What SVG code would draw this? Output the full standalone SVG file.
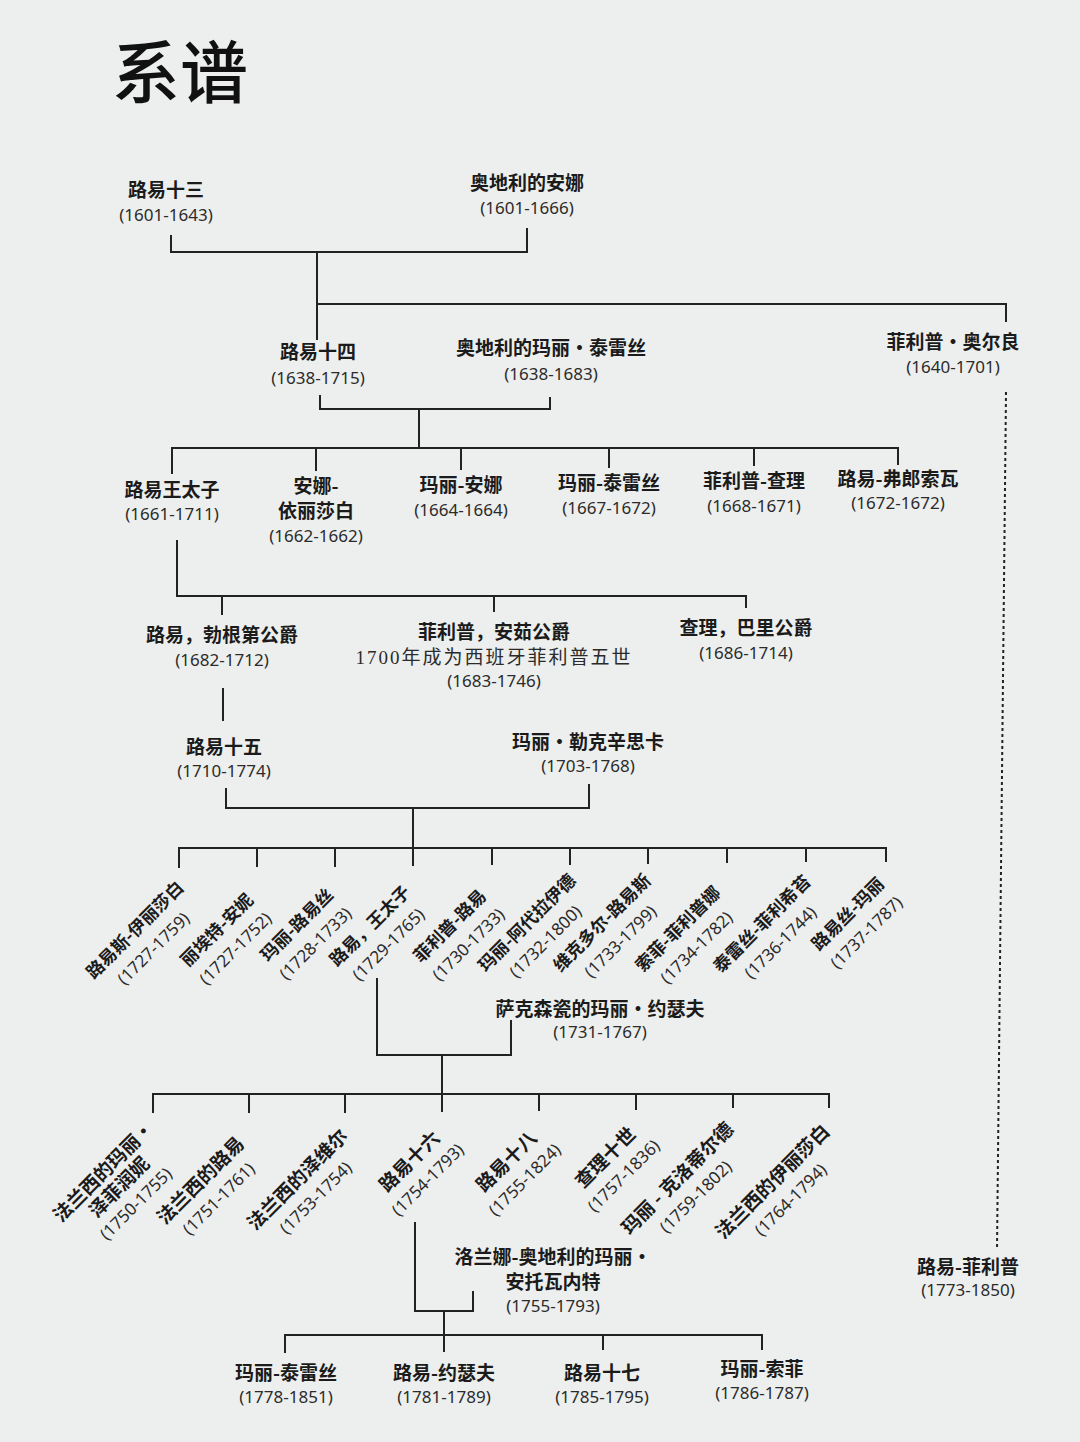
<svg xmlns="http://www.w3.org/2000/svg" width="1080" height="1442" viewBox="0 0 1080 1442">
<style>
.n{font-family:"Noto Sans CJK SC","Noto Sans CJK TC",sans-serif;font-weight:700;font-size:19px;fill:#1b1b1b;text-anchor:middle}
.r{font-size:17.5px}
.r2{font-size:19px}
.d{font-family:"Noto Sans","Open Sans","Noto Sans CJK SC",sans-serif;font-size:17px;fill:#2b2b2b;text-anchor:middle}
.note{font-family:"Liberation Serif","Noto Sans CJK SC",serif;font-size:19px;fill:#2b2b2b;text-anchor:middle;letter-spacing:2px}
.t{font-family:"Noto Sans CJK SC",sans-serif;font-size:68px;font-weight:500;fill:#111}
.c{fill:none;stroke:#222;stroke-width:2}
.dot{fill:none;stroke:#222;stroke-width:2;stroke-dasharray:3 3}
</style>
<rect width="1080" height="1442" fill="#edefee"/>
<text class="t" x="112" y="98">系谱</text>

<g id="connectors">
<path class="c" d="M171 235V252H527V228"/>
<path class="c" d="M317 252V340"/>
<path class="c" d="M317 304H1006V322"/>
<path class="c" d="M320 395V409H550V397"/>
<path class="c" d="M419 409V448"/>
<path class="c" d="M172 474V448H898V465M316 448V471M461 448V470M609 448V468M754 448V466"/>
<path class="c" d="M177 540V596H746V608M222 596V615M494 596V612"/>
<path class="c" d="M223 688V721"/>
<path class="c" d="M226 788V808H589V784"/>
<path class="c" d="M413 808V866"/>
<path class="c" d="M179 868V848H886V862M257 848V867M335 848V867M492 848V865M570 848V865M648 848V864M727 848V863M806 848V862"/>
<path class="c" d="M377 978V1055H511V1020"/>
<path class="c" d="M442 1055V1112"/>
<path class="c" d="M153 1113V1094H829V1108M249 1094V1113M345 1094V1113M539 1094V1111M636 1094V1110M733 1094V1108"/>
<path class="c" d="M415 1222V1311H473V1291"/>
<path class="c" d="M444 1311V1352"/>
<path class="c" d="M285 1353V1335H762V1350M603 1335V1350"/>
<path class="dot" d="M1006 392L997 1250"/>
</g>

<g id="louis13"><text class="n" x="166" y="197">路易十三</text><text class="d" x="166" y="221">(1601-1643)</text></g>
<g id="anne"><text class="n" x="527" y="190">奥地利的安娜</text><text class="d" x="527" y="214">(1601-1666)</text></g>

<g id="louis14"><text class="n" x="318" y="359">路易十四</text><text class="d" x="318" y="384">(1638-1715)</text></g>
<g id="mariatheresa"><text class="n" x="551" y="355">奥地利的玛丽·泰雷丝</text><text class="d" x="551" y="380">(1638-1683)</text></g>
<g id="philippe"><text class="n" x="953" y="349">菲利普·奥尔良</text><text class="d" x="953" y="373">(1640-1701)</text></g>

<g id="dauphin"><text class="n" x="172" y="497">路易王太子</text><text class="d" x="172" y="520">(1661-1711)</text></g>
<g id="anneelisabeth"><text class="n" x="316" y="493">安娜-</text><text class="n" x="316" y="518">依丽莎白</text><text class="d" x="316" y="542">(1662-1662)</text></g>
<g id="marieanne"><text class="n" x="461" y="492">玛丽-安娜</text><text class="d" x="461" y="516">(1664-1664)</text></g>
<g id="marietherese"><text class="n" x="609" y="490">玛丽-泰雷丝</text><text class="d" x="609" y="514">(1667-1672)</text></g>
<g id="philippecharles"><text class="n" x="754" y="488">菲利普-查理</text><text class="d" x="754" y="512">(1668-1671)</text></g>
<g id="louisfrancois"><text class="n" x="898" y="486">路易-弗郎索瓦</text><text class="d" x="898" y="509">(1672-1672)</text></g>

<g id="burgundy"><text class="n" x="222" y="642">路易，勃根第公爵</text><text class="d" x="222" y="666">(1682-1712)</text></g>
<g id="anjou"><text class="n" x="494" y="639">菲利普，安茹公爵</text><text class="note" x="494" y="664">1700年成为西班牙菲利普五世</text><text class="d" x="494" y="687">(1683-1746)</text></g>
<g id="berry"><text class="n" x="746" y="635">查理，巴里公爵</text><text class="d" x="746" y="659">(1686-1714)</text></g>

<g id="louis15"><text class="n" x="224" y="754">路易十五</text><text class="d" x="224" y="777">(1710-1774)</text></g>
<g id="marieleszczynska"><text class="n" x="588" y="749">玛丽·勒克辛思卡</text><text class="d" x="588" y="772">(1703-1768)</text></g>

<g id="c1" transform="translate(135 930) rotate(-45)"><text class="n r" y="6">路易斯-伊丽莎白</text><text class="d" y="32">(1727-1759)</text></g>
<g id="c2" transform="translate(217 930) rotate(-45)"><text class="n r" y="6">丽埃特-安妮</text><text class="d" y="32">(1727-1752)</text></g>
<g id="c3" transform="translate(297 925) rotate(-45)"><text class="n r" y="6">玛丽-路易丝</text><text class="d" y="32">(1728-1733)</text></g>
<g id="c4" transform="translate(370 926) rotate(-45)"><text class="n r" y="6">路易，王太子</text><text class="d" y="32">(1729-1765)</text></g>
<g id="c5" transform="translate(450 926) rotate(-45)"><text class="n r" y="6">菲利普-路易</text><text class="d" y="32">(1730-1733)</text></g>
<g id="c6" transform="translate(527 923) rotate(-45)"><text class="n r" y="6">玛丽-阿代拉伊德</text><text class="d" y="32">(1732-1800)</text></g>
<g id="c7" transform="translate(602 923) rotate(-45)"><text class="n r" y="6">维克多尔-路易斯</text><text class="d" y="32">(1733-1799)</text></g>
<g id="c8" transform="translate(678 929) rotate(-45)"><text class="n r" y="6">索菲-菲利普娜</text><text class="d" y="32">(1734-1782)</text></g>
<g id="c9" transform="translate(762 924) rotate(-45)"><text class="n r" y="6">泰雷丝-菲利希苔</text><text class="d" y="32">(1736-1744)</text></g>
<g id="c10" transform="translate(848 914) rotate(-45)"><text class="n r" y="6">路易丝-玛丽</text><text class="d" y="32">(1737-1787)</text></g>

<g id="mariejosepha"><text class="n" x="600" y="1016">萨克森瓷的玛丽·约瑟夫</text><text class="d" x="600" y="1038">(1731-1767)</text></g>

<g id="g1" transform="translate(104 1172) rotate(-45)"><text class="n r2" y="6">法兰西的玛丽·</text><text class="n r2" y="28">泽菲润妮</text><text class="d" y="51">(1750-1755)</text></g>
<g id="g2" transform="translate(201 1181) rotate(-45)"><text class="n r2" y="6">法兰西的路易</text><text class="d" y="31">(1751-1761)</text></g>
<g id="g3" transform="translate(298 1180) rotate(-45)"><text class="n r2" y="6">法兰西的泽维尔</text><text class="d" y="31">(1753-1754)</text></g>
<g id="g4" transform="translate(410 1162) rotate(-45)"><text class="n r2" y="6">路易十六</text><text class="d" y="31">(1754-1793)</text></g>
<g id="g5" transform="translate(507 1162) rotate(-45)"><text class="n r2" y="6">路易十八</text><text class="d" y="31">(1755-1824)</text></g>
<g id="g6" transform="translate(606 1158) rotate(-45)"><text class="n r2" y="6">查理十世</text><text class="d" y="31">(1757-1836)</text></g>
<g id="g7" transform="translate(678 1179) rotate(-45)"><text class="n r2" y="6">玛丽 - 克洛蒂尔德</text><text class="d" y="31">(1759-1802)</text></g>
<g id="g8" transform="translate(773 1182) rotate(-45)"><text class="n r2" y="6">法兰西的伊丽莎白</text><text class="d" y="31">(1764-1794)</text></g>

<g id="marieantoinette"><text class="n" x="553" y="1264">洛兰娜-奥地利的玛丽·</text><text class="n" x="553" y="1289">安托瓦内特</text><text class="d" x="553" y="1312">(1755-1793)</text></g>

<g id="mariethereseb"><text class="n" x="286" y="1380">玛丽-泰雷丝</text><text class="d" x="286" y="1403">(1778-1851)</text></g>
<g id="louisjoseph"><text class="n" x="444" y="1380">路易-约瑟夫</text><text class="d" x="444" y="1403">(1781-1789)</text></g>
<g id="louis17"><text class="n" x="602" y="1380">路易十七</text><text class="d" x="602" y="1403">(1785-1795)</text></g>
<g id="mariesophie"><text class="n" x="762" y="1376">玛丽-索菲</text><text class="d" x="762" y="1399">(1786-1787)</text></g>

<g id="louisphilippe"><text class="n" x="968" y="1274">路易-菲利普</text><text class="d" x="968" y="1296">(1773-1850)</text></g>
</svg>
